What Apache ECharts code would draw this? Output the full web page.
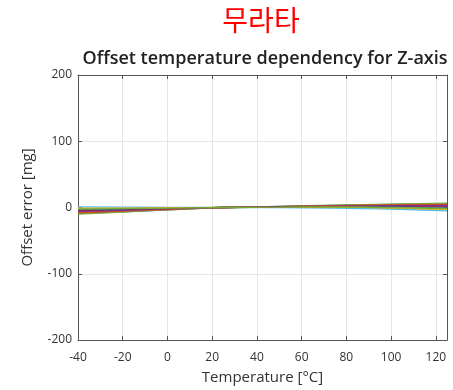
<!DOCTYPE html>
<html>
<head>
<meta charset="utf-8">
<script src="https://cdn.jsdelivr.net/npm/echarts@6/dist/echarts.min.js"></script>
<style>
  html, body { margin: 0; padding: 0; background: #fff; }
  #chart { width: 453px; height: 390px; }
</style>
</head>
<body>
<div id="chart"></div>
<script>
// temperatures [°C]
var temps = [-40, -20, 0, 25, 50, 75, 100, 125];
// offset error per part [mg], all zeroed at 25 °C
var part1 = [-9, -6.5, -3.5, 0, 1.5, 3, 4.5, 5.5];
var part2 = [-7, -5, -2.5, 0, 1.2, 2.5, 3.5, 4];
var part3 = [-2, -1.5, -0.8, 0, 0.4, 0, -1.5, -3.5];
var part4 = [-4, -3, -1.5, 0, 0.8, 1.6, 1.2, 0.5];
var part5 = [-10, -7, -3.5, 0, 1.8, 3.5, 5, 6.5];
var part6 = [1, 0.5, 0.3, 0, -0.3, -1, -2.5, -5];
var part7 = [-5, -3.5, -2, 0, 1, 2, 2.5, 2];
var part8 = [-3, -2.2, -1, 0, 0.6, 1, 0.5, -1];
var part9 = [-8, -5.5, -3, 0, 1.4, 2.8, 3.8, 4.5];
var part10 = [-1, -0.8, -0.4, 0, 0.2, 0.5, -0.5, -2.5];
var part11 = [-6, -4.2, -2.2, 0, 1.1, 2.2, 2.8, 3];
var part12 = [-2.5, -1.8, -1, 0, 0.5, 0.8, 0, -1.5];
var parts = [part1, part2, part3, part4, part5, part6, part7, part8, part9, part10, part11, part12];
var xTicks = { min: -40, max: 125, step: 20 };
var yTicks = { min: -200, max: 200, step: 100 };

var colors = ['#0072BD', '#D95319', '#EDB120', '#7E2F8E', '#77AC30', '#4DBEEE', '#A2142F'];
var font = 'Open Sans';

var chart = echarts.init(document.getElementById('chart'));

function boxAxis(pos, range, main) {
  return {
    type: 'value',
    position: pos,
    min: range.min,
    max: range.max,
    interval: range.step,
    axisLine: { show: true, onZero: false, lineStyle: { color: '#555', width: 1 } },
    axisTick: { show: true, inside: true, length: 4, lineStyle: { color: '#555' } },
    axisLabel: {
      show: main,
      color: '#333',
      fontSize: 12,
      fontFamily: font,
      showMaxLabel: pos === 'left' ? true : false,
      margin: pos === 'bottom' ? 12 : 6
    },
    splitLine: { show: main, lineStyle: { color: '#e6e6e6', width: 1 } }
  };
}

var xMain = boxAxis('bottom', xTicks, true);
xMain.name = 'Temperature [°C]';
xMain.nameLocation = 'middle';
xMain.nameGap = 30;
xMain.nameTextStyle = { fontSize: 15, color: '#333', fontFamily: font };
xMain.axisLabel.formatter = function (v) { return v === 125 ? '' : v; };

var yMain = boxAxis('left', yTicks, true);
yMain.name = 'Offset error [mg]';
yMain.nameLocation = 'middle';
yMain.nameGap = 43;
yMain.nameTextStyle = { fontSize: 15, color: '#333', fontFamily: font };

var series = parts.map(function (p, i) {
  return {
    type: 'line',
    data: temps.map(function (t, j) { return [t, p[j]]; }),
    smooth: true,
    symbol: 'none',
    lineStyle: { width: 1.3, color: colors[i % colors.length] }
  };
});

var option = {
  animation: false,
  backgroundColor: '#fff',
  title: [
    {
      text: '무라타',
      left: 256,
      top: 1,
      textAlign: 'center',
      textStyle: { color: '#ff0000', fontSize: 28, fontWeight: 'normal', fontFamily: 'Noto Sans CJK KR' }
    },
    {
      text: 'Offset temperature dependency for Z-axis',
      left: 260,
      top: 45,
      textAlign: 'center',
      textStyle: { color: '#222', fontSize: 18, fontWeight: 600, fontFamily: font }
    }
  ],
  grid: { left: 78, right: 6, top: 75, bottom: 49, containLabel: false },
  xAxis: [xMain, boxAxis('top', xTicks, false)],
  yAxis: [yMain, boxAxis('right', yTicks, false)],
  series: series
};

chart.setOption(option);
</script>
</body>
</html>
